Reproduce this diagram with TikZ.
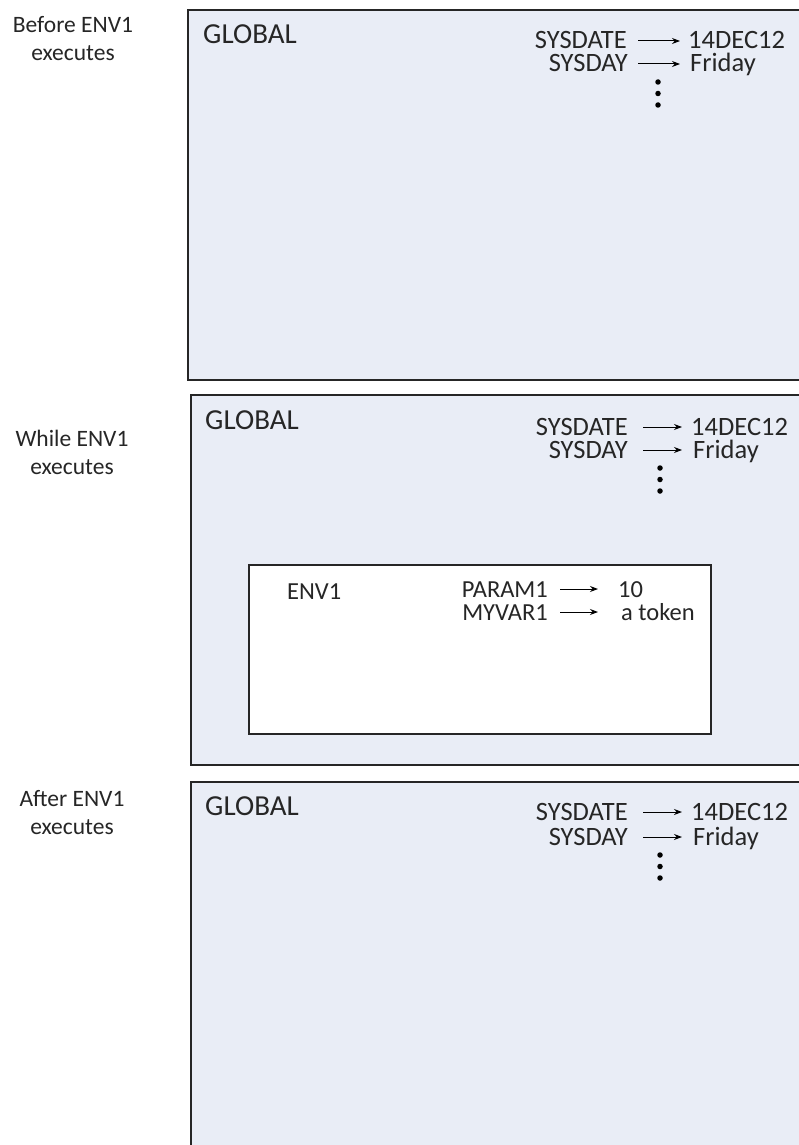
\documentclass[tikz,border=0pt]{standalone}
\usepackage{fontspec}
\setmainfont{Carlito}
\usetikzlibrary{arrows.meta}
\definecolor{panel}{RGB}{233,237,246}
\tikzset{
  panelbox/.style={draw=black!85, line width=2pt, fill=panel},
  envbox/.style={draw=black!85, line width=2pt, fill=white},
  title/.style={font=\fontsize{29}{34}\selectfont, anchor=base west, inner sep=0pt, text=black!85},
  var/.style={font=\fontsize{26.5}{31}\selectfont, anchor=base east, inner sep=0pt, text height=16pt, text depth=0pt, text=black!85},
  val/.style={font=\fontsize{26.5}{31}\selectfont, anchor=base west, inner sep=0pt, text height=16pt, text depth=0pt, text=black!85},
  evar/.style={var, font=\fontsize{24.5}{29}\selectfont},
  eval/.style={val, font=\fontsize{24.5}{29}\selectfont},
  side/.style={font=\fontsize{23.5}{28}\selectfont, anchor=base, inner sep=0pt, text=black!85},
  arr/.style={-{Stealth[length=8pt,width=6pt]}, line width=1pt},
  dot/.style={circle, fill=black, inner sep=0pt, minimum size=5.5pt},
}
\begin{document}
\begin{tikzpicture}[x=1pt,y=-1pt]
\useasboundingbox (0,0) rectangle (799,1145);
\clip (0,0) rectangle (799,1145);
\fill[white] (0,0) rectangle (799,1145);

% side labels
\node[side] (b1) at (73,33) {Before ENV1};
\node[side] (b2) at (73,61) {executes};
\node[side] (w1) at (72,446) {While ENV1};
\node[side] (w2) at (72,474) {executes};
\node[side] (a1) at (72,806) {After ENV1};
\node[side] (a2) at (72,834) {executes};

% panel 1
\path[panelbox] (188,10) rectangle (815,380);
\node[title] (g1) at (203,44) {GLOBAL};
\node[var] (sd1) at (627,49) {SYSDATE};
\node[val] (vd1) at (688,49) {14DEC12};
\node[var] (sy1) at (628,72) {SYSDAY};
\node[val] (vy1) at (690,72) {Friday};
\draw[arr, shorten <=11pt, shorten >=8pt] (sd1.east) -- (vd1.west);
\draw[arr, shorten <=10pt, shorten >=10pt] (sy1.east) -- (vy1.west);
\node[dot] (d1a) at (658,82) {};
\node[dot] (d1b) at (658,93.5) {};
\node[dot] (d1c) at (658,105) {};

% panel 2
\path[panelbox] (191,395) rectangle (815,765);
\node[title] (g2) at (205,429) {GLOBAL};
\node[var] (sd2) at (628,435) {SYSDATE};
\node[val] (vd2) at (691,435) {14DEC12};
\node[var] (sy2) at (628,458) {SYSDAY};
\node[val] (vy2) at (693,458) {Friday};
\draw[arr, shorten <=15pt, shorten >=9pt] (sd2.east) -- (vd2.west);
\draw[arr, shorten <=15pt, shorten >=11pt] (sy2.east) -- (vy2.west);
\node[dot] (d2a) at (660,468) {};
\node[dot] (d2b) at (660,479.5) {};
\node[dot] (d2c) at (660,491) {};

% ENV1 box
\path[envbox] (249,565) rectangle (711,734);
\node[eval] (e1) at (287,599) {ENV1};
\node[evar] (p1) at (548,597) {PARAM1};
\node[eval] (pv1) at (618,597) {10};
\node[evar] (m1) at (548,620) {MYVAR1};
\node[eval] (mv1) at (621,620) {a token};
\draw[arr, shorten <=12pt, shorten >=20pt] (p1.east) -- (pv1.west);
\draw[arr, shorten <=12pt, shorten >=23pt] (m1.east) -- (mv1.west);

% panel 3
\path[panelbox] (191,782) rectangle (815,1160);
\node[title] (g3) at (205,815) {GLOBAL};
\node[var] (sd3) at (628,820) {SYSDATE};
\node[val] (vd3) at (691,820) {14DEC12};
\node[var] (sy3) at (628,845) {SYSDAY};
\node[val] (vy3) at (693,845) {Friday};
\draw[arr, shorten <=15pt, shorten >=9pt] (sd3.east) -- (vd3.west);
\draw[arr, shorten <=15pt, shorten >=11pt] (sy3.east) -- (vy3.west);
\node[dot] (d3a) at (660,855) {};
\node[dot] (d3b) at (660,866.5) {};
\node[dot] (d3c) at (660,878) {};
\end{tikzpicture}
\end{document}
